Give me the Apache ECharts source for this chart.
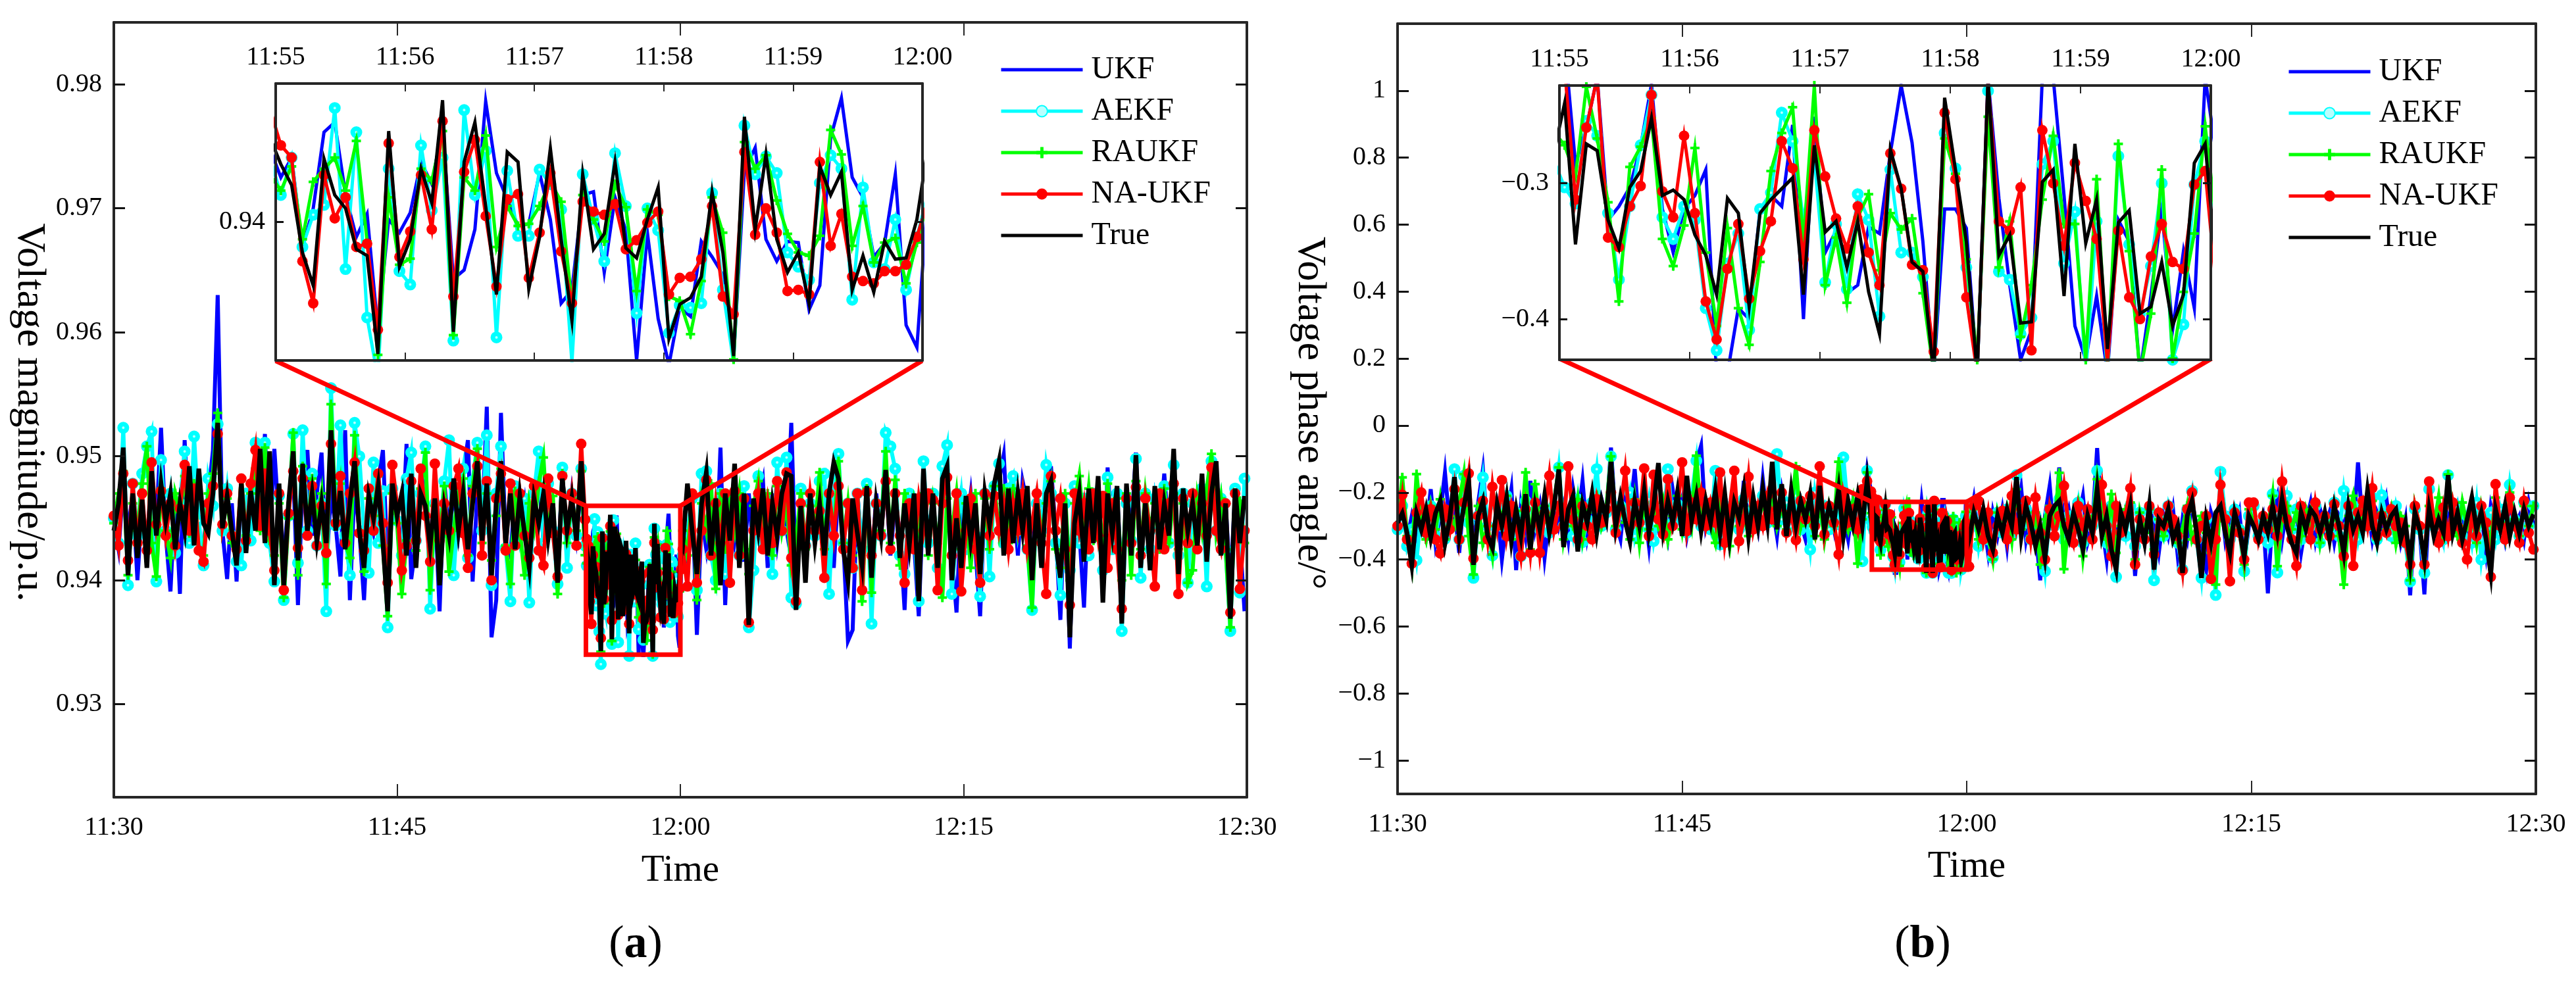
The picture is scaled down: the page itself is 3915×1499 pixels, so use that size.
<!DOCTYPE html>
<html><head><meta charset="utf-8">
<style>html,body{margin:0;padding:0;background:#fff}#c{width:3915px;height:1499px}</style>
<script src="https://cdn.jsdelivr.net/npm/echarts@6/dist/echarts.min.js"></script>
</head><body><div id="c"></div>
<script>
// Panel (a), 11:30-11:55, every 15 s, unit 1e-4 p.u.
const aBlueL=[9448,9425,9476,9440,9470,9400,9462,9430,9482,9446,9523,9436,9391,9470,9389,9513,9436,9474,9430,9428,9468,9505,9630,9440,9401,9462,9399,9476,9432,9470,9486,9440,9518,9428,9506,9446,9420,9462,9488,9380,9478,9505,9436,9470,9503,9410,9470,9444,9403,9521,9384,9476,9440,9384,9462,9440,9480,9505,9410,9470,9446,9424,9510,9401,9430,9470,9482,9420,9464,9375,9480,9436,9470,9440,9486,9513,9399,9470,9440,9540,9354,9384,9535,9432,9420,9470,9436,9462,9418,9470,9488,9430,9474,9440,9410,9482,9432,9470,9436,9476];
const aCyanL=[9450,9430,9523,9396,9478,9436,9486,9508,9520,9399,9497,9440,9470,9422,9462,9504,9430,9516,9448,9412,9482,9460,9526,9440,9474,9436,9415,9412,9470,9432,9511,9446,9511,9430,9399,9468,9384,9452,9518,9414,9521,9440,9486,9428,9462,9375,9555,9444,9525,9436,9404,9527,9500,9440,9406,9495,9430,9472,9362,9474,9448,9420,9482,9503,9432,9470,9508,9377,9462,9436,9480,9513,9404,9466,9490,9418,9480,9511,9440,9517,9396,9470,9508,9426,9383,9476,9436,9466,9382,9470,9504,9430,9478,9440,9397,9491,9410,9470,9436,9490];
const aGreenL=[9446,9470,9488,9404,9462,9440,9478,9508,9430,9403,9474,9440,9418,9470,9455,9484,9438,9478,9424,9420,9470,9486,9535,9444,9466,9430,9424,9482,9436,9470,9490,9440,9507,9432,9420,9462,9386,9450,9519,9404,9492,9436,9482,9446,9470,9397,9542,9448,9478,9430,9418,9517,9440,9407,9466,9452,9484,9428,9371,9470,9446,9389,9432,9480,9424,9474,9503,9392,9460,9430,9476,9407,9440,9470,9482,9420,9476,9506,9430,9470,9416,9452,9490,9428,9397,9472,9440,9404,9462,9442,9478,9499,9436,9468,9389,9486,9430,9466,9440,9488];
const aRedL=[9452,9428,9486,9416,9478,9430,9470,9424,9495,9445,9472,9436,9462,9428,9458,9493,9440,9474,9424,9415,9462,9476,9518,9445,9470,9436,9425,9482,9432,9478,9505,9444,9486,9440,9408,9470,9392,9454,9488,9426,9482,9436,9476,9428,9460,9422,9510,9446,9484,9430,9470,9495,9438,9424,9474,9440,9486,9446,9398,9493,9460,9408,9428,9480,9432,9490,9452,9415,9494,9432,9462,9440,9476,9490,9438,9410,9470,9492,9420,9480,9400,9466,9486,9424,9478,9428,9470,9436,9418,9476,9424,9412,9482,9438,9403,9484,9440,9470,9428,9510];
const aTrueL=[9440,9462,9507,9404,9470,9418,9465,9410,9488,9436,9478,9448,9470,9425,9462,9440,9492,9428,9490,9446,9438,9470,9527,9442,9468,9440,9412,9478,9422,9472,9440,9506,9430,9504,9396,9478,9396,9462,9504,9416,9494,9440,9470,9432,9462,9430,9521,9440,9472,9425,9462,9496,9440,9410,9468,9450,9476,9430,9375,9478,9452,9470,9420,9486,9410,9470,9460,9428,9466,9396,9458,9436,9482,9440,9470,9425,9462,9496,9432,9478,9404,9462,9496,9430,9470,9425,9468,9438,9410,9466,9446,9470,9434,9462,9398,9482,9440,9466,9432,9496];
// Panel (a), 11:55-12:00, every 5 s, unit 1e-5 p.u.
const aBlueZ=[94317,94193,94279,93887,94059,94389,94432,94117,93935,94035,93533,94011,93954,94040,94260,94164,94413,93753,93792,93968,94523,94212,94098,93983,93992,94212,94011,93648,93706,94117,94131,93782,94107,93964,93400,93954,93581,93381,93629,93591,93916,93849,93772,93409,94222,94322,93925,93830,93916,93911,93620,93725,94365,94537,94193,94107,93849,93906,94207,93553,93457,94107];
const aCyanZ=[94279,94117,94279,93892,94031,94074,94494,93796,94389,93586,93323,94231,93787,93729,94332,94050,94279,93486,94485,94117,94308,93500,94222,93940,93940,94227,94164,94054,93390,94207,94011,93830,94298,94069,93605,94059,93964,93519,93639,93629,93648,94126,93706,93390,94418,94207,94284,94212,93868,93806,93749,94169,94289,94231,93663,94150,93825,93796,94011,93706,93935,94117];
const aGreenZ=[94203,94136,94241,93925,94174,94231,94279,94136,94351,93916,93424,94107,93815,93841,94231,94179,94394,93510,94193,94136,94375,93892,94069,93983,93992,94069,94174,94088,93648,94117,94011,93916,94164,94064,93701,94054,94031,93677,93658,93514,93744,94107,93954,93404,94346,94231,94289,94093,93949,93868,93854,93940,94399,94293,93897,94069,93825,93911,93930,93734,93911,94088];
const aRedZ=[94489,94332,94279,93830,93648,94203,94016,94107,93892,93906,93533,94341,93849,93959,94203,93968,94437,93677,94217,94356,94026,93720,94098,94121,93758,93954,94212,93873,93648,94088,94045,94031,94078,93882,93921,93997,94045,93686,93758,93763,93839,94069,93677,93600,94303,93945,94059,93954,93701,93706,93686,94260,93897,94035,93763,93744,93734,93787,93787,93815,93935,94088];
const aTrueZ=[94365,94250,94160,93868,93725,94274,94117,94059,93882,93854,93428,94394,93806,93925,94231,94083,94528,93524,94260,94432,94069,93686,94303,94260,93710,93935,94319,93925,93572,94207,93882,93949,94260,93887,93844,94011,94150,93495,93643,93672,93763,94131,93868,93419,94456,93968,94293,93925,93782,93868,93648,94241,94117,94217,93706,93854,93696,93916,93839,93844,94011,94317];
// Panel (a), 12:00-12:30, every 15 s, unit 1e-4 p.u.
const aBlueR=[9440,9400,9470,9356,9450,9425,9462,9408,9507,9380,9470,9432,9462,9415,9470,9420,9462,9480,9410,9470,9430,9462,9440,9527,9400,9470,9420,9462,9436,9470,9428,9462,9410,9476,9432,9351,9360,9470,9425,9466,9408,9470,9436,9482,9420,9462,9440,9376,9470,9430,9371,9470,9440,9462,9415,9476,9480,9420,9374,9462,9440,9470,9425,9371,9470,9440,9474,9480,9501,9430,9470,9420,9480,9462,9410,9470,9436,9462,9492,9440,9368,9470,9345,9462,9440,9378,9470,9436,9482,9385,9491,9430,9470,9400,9462,9440,9503,9418,9470,9425,9466,9440,9486,9436,9474,9402,9470,9425,9462,9436,9478,9418,9470,9484,9425,9462,9395,9470,9436,9375];
const aCyanR=[9420,9440,9466,9392,9486,9488,9420,9400,9470,9405,9440,9462,9420,9476,9362,9408,9484,9430,9462,9405,9495,9440,9499,9386,9381,9474,9428,9462,9436,9480,9486,9389,9470,9502,9430,9462,9410,9470,9425,9478,9365,9462,9436,9519,9508,9490,9420,9405,9470,9440,9383,9496,9430,9470,9410,9492,9509,9389,9440,9470,9425,9462,9436,9387,9470,9403,9476,9494,9430,9474,9484,9440,9470,9425,9376,9462,9440,9493,9470,9430,9388,9462,9408,9476,9430,9466,9420,9470,9436,9408,9483,9425,9470,9359,9462,9432,9498,9402,9470,9425,9466,9440,9476,9430,9493,9420,9470,9398,9462,9440,9474,9395,9496,9440,9466,9425,9359,9474,9390,9482];
const aGreenR=[9440,9420,9470,9384,9462,9440,9478,9393,9470,9425,9462,9440,9470,9425,9405,9460,9480,9436,9470,9420,9476,9440,9462,9412,9430,9470,9425,9460,9440,9487,9425,9470,9436,9496,9430,9462,9420,9470,9383,9474,9390,9462,9440,9504,9430,9481,9412,9470,9425,9462,9440,9470,9420,9462,9430,9386,9466,9440,9470,9425,9462,9410,9470,9398,9466,9425,9476,9440,9474,9430,9474,9440,9466,9428,9378,9470,9436,9462,9480,9425,9410,9470,9400,9462,9484,9440,9474,9432,9470,9425,9478,9436,9466,9400,9470,9404,9480,9425,9470,9440,9462,9425,9474,9430,9470,9425,9462,9398,9408,9466,9440,9474,9502,9440,9466,9425,9362,9470,9464,9430];
const aRedR=[9425,9395,9470,9398,9440,9481,9420,9462,9430,9470,9398,9472,9420,9466,9366,9440,9470,9425,9462,9430,9480,9440,9487,9418,9383,9462,9428,9470,9440,9456,9402,9470,9436,9476,9425,9462,9410,9470,9392,9471,9420,9462,9436,9480,9425,9470,9436,9398,9462,9425,9466,9440,9470,9465,9392,9462,9483,9420,9470,9391,9440,9466,9425,9398,9470,9436,9468,9440,9462,9425,9462,9440,9470,9425,9446,9470,9430,9389,9484,9440,9466,9425,9380,9470,9440,9462,9425,9470,9436,9468,9410,9462,9425,9377,9466,9430,9475,9420,9466,9440,9395,9470,9425,9462,9478,9389,9466,9430,9470,9425,9462,9436,9491,9440,9425,9462,9374,9470,9393,9440];
const aTrueR=[9428,9478,9440,9405,9462,9487,9420,9466,9396,9470,9432,9494,9410,9470,9364,9466,9440,9474,9420,9462,9436,9470,9486,9484,9376,9460,9398,9470,9430,9462,9420,9470,9495,9482,9425,9400,9466,9438,9412,9476,9402,9462,9436,9489,9428,9474,9418,9462,9428,9470,9383,9490,9420,9470,9410,9482,9492,9400,9450,9410,9468,9432,9462,9405,9470,9445,9478,9496,9420,9474,9430,9470,9440,9476,9400,9462,9410,9470,9480,9430,9402,9462,9354,9446,9470,9415,9474,9430,9484,9382,9470,9438,9476,9365,9478,9420,9501,9410,9462,9408,9476,9425,9462,9436,9506,9405,9474,9440,9462,9428,9486,9415,9470,9496,9420,9462,9369,9474,9430,9468];
// Panel (b), 11:30-11:55, every 15 s, unit 1e-3 degree
const bBlueL=[-300,-230,-340,-270,-330,-225,-320,-190,-350,-265,-140,-300,-250,-380,-210,-290,-340,-230,-131,-320,-350,-250,-400,-280,-190,-432,-240,-330,-165,-310,-240,-395,-270,-220,-300,-240,-340,-190,-280,-165,-330,-245,-300,-220,-280,-66,-290,-340,-200,-260,-130,-310,-240,-360,-210,-300,-240,-330,-190,-280,-220,-330,-250,-110,-60,-300,-240,-290,-320,-210,-275,-190,-340,-165,-290,-240,-310,-160,-290,-240,-330,-200,-300,-250,-190,-290,-340,-230,-300,-200,-280,-240,-310,-180,-270,-340,-230,-290,-250,-130];
const bCyanL=[-310,-240,-360,-310,-402,-260,-320,-240,-330,-250,-338,-300,-130,-340,-150,-290,-455,-270,-155,-300,-388,-240,-300,-210,-330,-260,-390,-225,-240,-290,-310,-260,-320,-240,-125,-300,-260,-330,-220,-348,-280,-230,-130,-300,-260,-92,-310,-240,-270,-200,-330,-260,-300,-220,-345,-270,-300,-130,-290,-235,-280,-320,-210,-105,-300,-260,-310,-135,-355,-240,-280,-230,-310,-220,-290,-250,-300,-210,-290,-255,-85,-280,-230,-300,-210,-310,-260,-370,-200,-280,-240,-310,-250,-295,-95,-260,-300,-230,-405,-135];
const bGreenL=[-300,-155,-330,-416,-145,-290,-340,-240,-310,-220,-340,-270,-300,-230,-145,-330,-445,-240,-350,-300,-385,-230,-280,-210,-340,-255,-330,-140,-370,-175,-300,-240,-290,-230,-125,-340,-260,-300,-220,-340,-260,-240,-210,-300,-250,-92,-300,-240,-290,-340,-220,-350,-230,-310,-250,-300,-230,-340,-270,-210,-310,-200,-290,-90,-280,-240,-300,-350,-240,-290,-360,-230,-300,-260,-330,-240,-290,-230,-280,-210,-300,-240,-310,-260,-122,-300,-240,-290,-330,-230,-340,-240,-300,-108,-260,-310,-230,-412,-280,-140];
const bRedL=[-300,-207,-340,-412,-260,-200,-320,-250,-340,-382,-250,-310,-190,-340,-230,-143,-397,-270,-225,-340,-183,-300,-163,-330,-240,-300,-390,-250,-380,-230,-380,-260,-150,-310,-240,-300,-122,-280,-340,-240,-300,-340,-220,-290,-250,-200,-320,-250,-135,-300,-230,-290,-128,-330,-147,-280,-325,-160,-300,-250,-110,-315,-230,-280,-200,-300,-230,-290,-140,-350,-250,-135,-345,-280,-153,-310,-240,-300,-210,-280,-250,-200,-320,-260,-342,-225,-280,-210,-300,-122,-325,-240,-290,-385,-210,-290,-250,-310,-190,-166];
const bTrueL=[-290,-262,-320,-416,-262,-310,-250,-335,-262,-225,-352,-280,-154,-330,-240,-167,-416,-270,-225,-330,-365,-235,-300,-215,-345,-250,-330,-205,-370,-240,-310,-210,-320,-240,-131,-363,-250,-210,-376,-235,-290,-205,-320,-225,-280,-108,-300,-215,-285,-346,-225,-300,-195,-320,-240,-112,-310,-225,-290,-200,-330,-150,-285,-210,-315,-225,-290,-195,-320,-205,-340,-230,-275,-190,-330,-215,-300,-190,-290,-108,-310,-175,-330,-195,-300,-225,-280,-205,-340,-180,-310,-240,-290,-190,-330,-225,-295,-210,-300,-165];
// Panel (b), 11:55-12:00, every 5 s, unit 1e-3 degree
const bBlueZ=[-197,-197,-286,-259,-222,-327,-317,-303,-273,-227,-319,-351,-319,-309,-290,-440,-440,-392,-400,-319,-309,-317,-257,-400,-251,-351,-335,-381,-375,-332,-337,-278,-228,-270,-343,-440,-319,-319,-333,-440,-223,-311,-375,-430,-408,-222,-222,-309,-405,-430,-383,-440,-327,-343,-440,-383,-319,-408,-350,-392,-222,-278];
const bCyanZ=[-283,-303,-315,-254,-265,-322,-371,-317,-272,-235,-325,-341,-317,-327,-392,-423,-359,-337,-408,-319,-307,-248,-269,-327,-281,-373,-330,-378,-308,-327,-398,-290,-351,-351,-369,-440,-263,-289,-362,-440,-232,-365,-371,-411,-399,-286,-269,-359,-321,-440,-328,-440,-280,-345,-396,-361,-300,-430,-404,-301,-269,-327];
const bGreenZ=[-262,-272,-295,-229,-267,-314,-387,-288,-273,-252,-341,-361,-331,-274,-351,-405,-333,-392,-419,-358,-291,-263,-244,-343,-228,-375,-340,-388,-325,-308,-364,-322,-334,-326,-381,-440,-267,-293,-356,-430,-251,-362,-328,-413,-375,-312,-265,-330,-330,-430,-297,-437,-271,-350,-440,-396,-290,-429,-380,-337,-258,-327];
const bRedZ=[-197,-215,-312,-259,-222,-340,-347,-317,-302,-235,-306,-325,-265,-322,-387,-415,-363,-330,-385,-350,-328,-269,-289,-356,-261,-295,-326,-348,-317,-351,-375,-278,-304,-360,-364,-424,-248,-297,-384,-440,-225,-328,-335,-303,-423,-261,-300,-346,-285,-313,-341,-432,-335,-384,-400,-354,-330,-358,-363,-301,-291,-375];
const bTrueZ=[-278,-241,-345,-271,-276,-327,-348,-303,-291,-252,-309,-305,-312,-338,-353,-382,-311,-322,-391,-322,-312,-304,-296,-382,-272,-336,-328,-362,-328,-380,-411,-275,-304,-358,-365,-440,-237,-290,-343,-440,-223,-353,-338,-403,-402,-299,-290,-383,-271,-344,-312,-422,-329,-320,-396,-391,-358,-405,-382,-285,-271,-359];
// Panel (b), 12:00-12:30, every 15 s, unit 1e-3 degree
const bBlueR=[-300,-220,-340,-280,-380,-260,-330,-250,-360,-220,-300,-190,-340,-260,-310,-462,-270,-180,-340,-125,-300,-250,-340,-280,-210,-350,-300,-67,-300,-400,-240,-340,-270,-310,-220,-449,-280,-350,-240,-300,-380,-270,-330,-250,-390,-280,-340,-230,-300,-350,-430,-260,-310,-200,-340,-270,-320,-260,-410,-300,-250,-340,-280,-501,-260,-210,-340,-240,-300,-260,-380,-290,-230,-340,-250,-310,-260,-350,-270,-300,-240,-320,-110,-300,-240,-340,-260,-300,-220,-320,-260,-350,-280,-507,-250,-310,-504,-230,-300,-260,-340,-270,-310,-240,-290,-340,-230,-300,-260,-380,-240,-300,-260,-340,-240,-300,-270,-340,-230,-300];
const bCyanR=[-310,-240,-360,-270,-340,-395,-260,-320,-250,-330,-148,-300,-250,-340,-270,-330,-435,-260,-300,-220,-340,-270,-310,-230,-350,-280,-300,-135,-270,-350,-240,-452,-270,-330,-240,-360,-260,-310,-250,-462,-280,-330,-240,-300,-350,-430,-250,-195,-340,-455,-280,-330,-506,-138,-270,-340,-250,-310,-435,-270,-240,-330,-290,-350,-205,-439,-270,-210,-310,-250,-340,-270,-300,-240,-350,-280,-310,-230,-330,-195,-300,-240,-340,-260,-300,-215,-340,-208,-280,-330,-240,-300,-350,-466,-250,-310,-440,-190,-300,-270,-340,-148,-300,-240,-330,-270,-350,-230,-400,-300,-260,-340,-250,-310,-177,-280,-330,-230,-300,-240];
const bGreenR=[-300,-250,-340,-270,-330,-400,-260,-310,-250,-340,-190,-310,-260,-330,-260,-415,-280,-240,-300,-141,-429,-280,-310,-240,-390,-270,-300,-160,-270,-340,-205,-380,-300,-250,-230,-400,-260,-320,-250,-370,-280,-330,-270,-300,-350,-310,-240,-340,-300,-270,-320,-380,-475,-180,-280,-340,-260,-310,-415,-250,-290,-340,-270,-310,-210,-420,-270,-240,-310,-260,-330,-250,-300,-240,-350,-270,-310,-240,-330,-475,-270,-210,-310,-240,-290,-225,-340,-260,-310,-250,-350,-270,-300,-462,-240,-300,-410,-240,-300,-215,-340,-146,-280,-330,-230,-300,-260,-350,-240,-300,-350,-215,-290,-340,-200,-280,-330,-240,-300,-240];
const bRedR=[-421,-240,-225,-340,-260,-380,-300,-255,-340,-210,-310,-250,-225,-340,-215,-320,-400,-250,-330,-270,-180,-300,-350,-240,-300,-250,-340,-260,-177,-300,-390,-240,-320,-270,-187,-415,-280,-340,-240,-385,-260,-300,-240,-280,-330,-433,-250,-200,-340,-300,-270,-458,-340,-177,-280,-465,-260,-320,-400,-230,-230,-340,-270,-310,-250,-330,-167,-280,-340,-419,-240,-280,-340,-230,-310,-270,-330,-235,-300,-390,-240,-419,-260,-225,-300,-187,-330,-270,-320,-250,-300,-290,-350,-415,-240,-300,-415,-167,-290,-350,-245,-330,-230,-300,-350,-400,-270,-330,-240,-290,-452,-175,-300,-340,-215,-300,-350,-225,-320,-370];
const bTrueR=[-340,-260,-310,-250,-330,-370,-270,-320,-250,-300,-154,-330,-240,-290,-360,-300,-395,-270,-240,-225,-300,-340,-260,-310,-370,-270,-320,-190,-330,-270,-370,-430,-260,-310,-240,-380,-280,-350,-240,-430,-280,-300,-250,-340,-300,-440,-270,-225,-320,-455,-280,-350,-260,-240,-320,-380,-260,-310,-390,-270,-300,-340,-270,-320,-240,-320,-220,-300,-350,-380,-260,-310,-250,-270,-320,-260,-340,-240,-300,-380,-240,-310,-270,-320,-195,-300,-350,-260,-310,-270,-250,-340,-290,-410,-260,-310,-400,-250,-330,-280,-320,-148,-320,-260,-340,-280,-215,-310,-260,-340,-442,-250,-310,-240,-330,-260,-320,-250,-300,-265];

// Labels, names, ranges
const names=['UKF','AEKF','RAUKF','NA-UKF','True'];
const colors=['#0000ff','#00ffff','#00ff00','#ff0000','#000000'];
const xMainTicks=[0,15,30,45,60], xMainLabels=['11:30','11:45','12:00','12:15','12:30'];
const xZoomTicks=[25,26,27,28,29,30], xZoomLabels=['11:55','11:56','11:57','11:58','11:59','12:00'];
const aYTicks=[0.93,0.94,0.95,0.96,0.97,0.98], aYRange=[0.9225,0.985], aZoomY=[0.934,0.946], aZoomTicks=[0.94];
const bYTicks=[-1,-0.8,-0.6,-0.4,-0.2,0,0.2,0.4,0.6,0.8,1], bYRange=[-1.1,1.2], bZoomY=[-0.43,-0.228], bZoomTicks=[-0.3,-0.4];
const aConnector={x0:8.57,x1:42.8,y:0.9577}, bConnector={x0:8.53,x1:42.9,y:0.2};
const yTitleA='Voltage magnitude/p.u.', yTitleB='Voltage phase angle/°', xTitle='Time';

const font='Liberation Serif', axisCol='#262626';
const plus='path://M5 0H9V5H14V9H9V14H5V9H0V5H5Z';
function join(L,Z,R,uL,uZ){
  const out=[];
  L.forEach((v,i)=>out.push([i*0.25,v/uL]));
  Z.forEach((v,k)=>out.push([25+(2.4+5*(k-1))/60,v/uZ]));
  R.forEach((v,i)=>out.push([30+(i+0.5)*0.25,v/uL]));
  return out;
}
const aData=[join(aBlueL,aBlueZ,aBlueR,1e4,1e5),join(aCyanL,aCyanZ,aCyanR,1e4,1e5),join(aGreenL,aGreenZ,aGreenR,1e4,1e5),join(aRedL,aRedZ,aRedR,1e4,1e5),join(aTrueL,aTrueZ,aTrueR,1e4,1e5)];
const bData=[join(bBlueL,bBlueZ,bBlueR,1e3,1e3),join(bCyanL,bCyanZ,bCyanR,1e3,1e3),join(bGreenL,bGreenZ,bGreenR,1e3,1e3),join(bRedL,bRedZ,bRedR,1e3,1e3),join(bTrueL,bTrueZ,bTrueR,1e3,1e3)];

const grids=[],xAxes=[],yAxes=[],series=[];
function fmtY(v,d){const s=d?v.toFixed(d):String(+v.toFixed(2));return s.replace('-','\u2212');}
function addGrid(rect,xr,yr,xt,yt,xl,yd,opts){
  const g=grids.length, ax=xAxes.length, ay=yAxes.length;
  grids.push(Object.assign({containLabel:false,show:true,borderWidth:0,backgroundColor:'#fff',z:opts.z},rect));
  const line={show:true,onZero:false,lineStyle:{color:axisCol,width:opts.lw}};
  const tickX={show:true,inside:true,length:opts.tx,customValues:xt,lineStyle:{color:axisCol,width:opts.tw}};
  const tickY={show:true,inside:true,length:opts.ty,customValues:yt,lineStyle:{color:'#111',width:opts.tw+1}};
  const lab={fontFamily:font,fontSize:40,color:'#000'};
  const xFmt=v=>xl[xt.findIndex(t=>Math.abs(t-v)<1e-6)];
  const mk=(pos,show)=>({gridIndex:g,type:'value',position:pos,min:xr[0],max:xr[1],z:opts.axisZ,splitLine:{show:false},axisLine:line,axisTick:tickX,
    axisLabel:show?Object.assign({show:true,customValues:xt,formatter:xFmt,margin:opts.xm,showMinLabel:true,showMaxLabel:true},lab):{show:false}});
  xAxes.push(mk('bottom',!opts.labelsTop));
  xAxes.push(mk('top',!!opts.labelsTop));
  const mky=(pos,show)=>({gridIndex:g,type:'value',position:pos,min:yr[0],max:yr[1],z:opts.axisZ,splitLine:{show:false},axisLine:line,axisTick:tickY,
    axisLabel:show?Object.assign({show:true,customValues:yt,formatter:v=>fmtY(v,yd),margin:opts.ym},lab):{show:false}});
  yAxes.push(mky('left',true));
  yAxes.push(mky('right',false));
  return {ax,ay};
}
function addLines(data,idx,widths,z){
  names.forEach((n,i)=>{
    const s={type:'line',name:n,data:data[i],xAxisIndex:idx.ax,yAxisIndex:idx.ay,z:z+i,silent:true,animation:false,
      showSymbol:true,showAllSymbol:true,symbol:'none',lineStyle:{color:colors[i],width:widths[i],join:'miter'},itemStyle:{color:colors[i]},
      emphasis:{disabled:true},clip:true};
    if(i===1){s.symbol='circle';s.symbolSize=11;s.itemStyle={color:'#b8ffff',borderColor:colors[1],borderWidth:7};}
    if(i===2){s.symbol=plus;s.symbolSize=14;}
    if(i===3){s.symbol='circle';s.symbolSize=16;}
    series.push(s);
  });
}
function addBox(idx,z,yz,c){
  const box=[[25,yz[1]],[25,yz[0]],[30,yz[0]],[30,yz[1]],[25,yz[1]]];
  series.push({type:'line',data:box,xAxisIndex:idx.ax,yAxisIndex:idx.ay,z:z,silent:true,animation:false,symbol:'none',clip:false,lineStyle:{color:'#ff0000',width:7,join:'miter'}});
  series.push({type:'line',data:[[c.x0,c.y],[25,yz[1]]],xAxisIndex:idx.ax,yAxisIndex:idx.ay,z:z,silent:true,animation:false,symbol:'none',clip:false,lineStyle:{color:'#ff0000',width:7}});
  series.push({type:'line',data:[[c.x1,c.y],[30,yz[1]]],xAxisIndex:idx.ax,yAxisIndex:idx.ay,z:z,silent:true,animation:false,symbol:'none',clip:false,lineStyle:{color:'#ff0000',width:7}});
}
const mainOpt={z:1,axisZ:9,lw:4,tx:20,ty:17,tw:2,xm:26,ym:18};
const zoomOpt={z:20,axisZ:26,lw:4,tx:12,ty:12,tw:2,xm:20,ym:16,labelsTop:true};
const mainW=[6,6,6,6,7], zoomW=[5,5,5,5,5];
const ma=addGrid({left:173,top:34,width:1722,height:1178},[0,60],aYRange,xMainTicks,aYTicks,xMainLabels,2,mainOpt);
addLines(aData,ma,mainW,3);addBox(ma,8,aZoomY,aConnector);
const za=addGrid({left:419,top:127,width:983,height:421},[25,30],aZoomY,xZoomTicks,aZoomTicks,xZoomLabels,2,zoomOpt);
addLines(aData,za,zoomW,21);
const mb=addGrid({left:2124,top:36,width:1730,height:1171},[0,60],bYRange,xMainTicks,bYTicks,xMainLabels,0,mainOpt);
addLines(bData,mb,mainW,3);addBox(mb,8,bZoomY,bConnector);
const zb=addGrid({left:2370,top:130,width:990,height:417},[25,30],bZoomY,xZoomTicks,bZoomTicks,xZoomLabels,0,zoomOpt);
addLines(bData,zb,zoomW,21);

const hideMark={color:'rgba(0,0,0,0)',borderWidth:0};
const legendData=names.map((n,i)=>(i===0||i===4)?{name:n,itemStyle:hideMark}:{name:n});
function legend(left,top){return {show:true,orient:'vertical',left:left,top:top,data:legendData,itemWidth:124,itemHeight:21,itemGap:15,padding:0,selectedMode:false,
  lineStyle:{width:5},textStyle:{fontFamily:font,fontSize:48,color:'#000',padding:[0,0,0,8]},z:40};}
const txt=(x,y,t,rot,size)=>({type:'text',x:x,y:y,rotation:rot||0,z:50,style:{text:t,fontFamily:font,fontSize:size,fill:'#000',textAlign:'center',textVerticalAlign:'middle'}});
const caption=(x,y,letter)=>({type:'text',x:x,y:y,z:50,style:{text:'({b|'+letter+'})',fontFamily:font,fontSize:70,fill:'#000',align:'center',verticalAlign:'middle',rich:{b:{fontFamily:font,fontSize:70,fontWeight:'bold',fill:'#000'}}}});
const chart=echarts.init(document.getElementById('c'),null,{renderer:'canvas',width:3915,height:1499});
chart.setOption({backgroundColor:'#fff',animation:false,grid:grids,xAxis:xAxes,yAxis:yAxes,series:series,
  legend:[legend(1519,82),legend(3476,85)],
  graphic:[
    txt(44,627,yTitleA,-Math.PI/2,62),txt(1990,628,yTitleB,-Math.PI/2,62),
    txt(1034,1324,xTitle,0,57),txt(2989,1318,xTitle,0,57),
    caption(966,1437,'a'),caption(2922,1437,'b')
  ]});
</script></body></html>
